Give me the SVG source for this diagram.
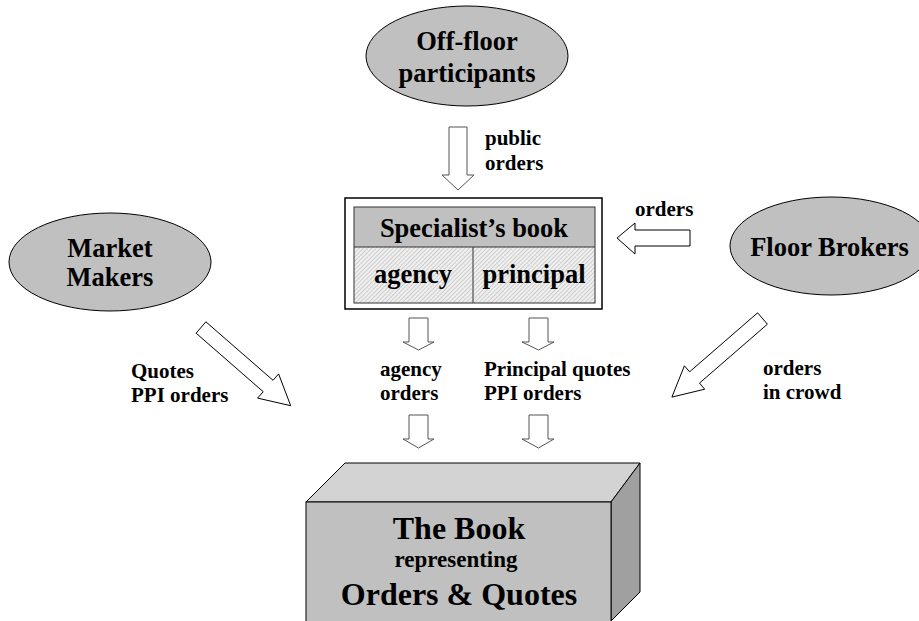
<svg xmlns="http://www.w3.org/2000/svg" width="919" height="621" viewBox="0 0 919 621">
<style>
text{font-weight:bold;fill:#000}
.ell{fill:#c0c0c0;stroke:#000;stroke-width:1}
.big{font-size:26.5px}
.lbl{font-size:21px}
.arr{fill:#fff;stroke:#000;stroke-width:1}
.sarr{fill:#fff;stroke:#555;stroke-width:1}
</style>
<defs>
<pattern id="hatch" width="3" height="3" patternUnits="userSpaceOnUse" patternTransform="rotate(-45)">
<rect width="3" height="3" fill="#f0f0f0"/>
<line x1="0" y1="0" x2="3" y2="0" stroke="#a8a8a8" stroke-width="1"/>
</pattern>
</defs>
<rect width="919" height="621" fill="#fff"/>
<g font-family="Liberation Serif, Times New Roman, DejaVu Serif, serif">
<g id="offfloor">
<ellipse class="ell" cx="467" cy="56" rx="101" ry="50"/>
<text class="big" x="467" y="50" text-anchor="middle">Off-floor</text>
<text class="big" x="467" y="82" text-anchor="middle">participants</text>
</g>

<g id="marketmakers">
<ellipse class="ell" cx="110" cy="262" rx="101" ry="49"/>
<text class="big" x="110" y="257" text-anchor="middle">Market</text>
<text class="big" x="110" y="286" text-anchor="middle">Makers</text>
</g>

<g id="floorbrokers">
<ellipse class="ell" cx="831" cy="246" rx="101" ry="49"/>
<text class="big" x="829.5" y="256" text-anchor="middle">Floor Brokers</text>
</g>

<g id="specialist">
<rect x="345" y="198" width="257" height="111" fill="#fff" stroke="#000" stroke-width="1.5"/>
<rect x="354" y="247" width="241" height="56" fill="url(#hatch)"/>
<rect x="354" y="207" width="241" height="40" fill="#c0c0c0"/>
<rect x="354" y="207" width="241" height="96" fill="none" stroke="#333" stroke-width="1"/>
<line x1="354" y1="247" x2="595" y2="247" stroke="#333" stroke-width="1"/>
<line x1="473" y1="247" x2="473" y2="303" stroke="#333" stroke-width="1"/>
<text class="big" x="474" y="237" text-anchor="middle">Specialist’s book</text>
<text class="big" x="413" y="283" text-anchor="middle">agency</text>
<text class="big" x="534" y="283" text-anchor="middle">principal</text>
</g>

<g id="thebook">
<polygon points="306,502 345,463 640,463 611,502" fill="#d3d3d3" stroke="#000" stroke-width="1"/>
<polygon points="611,502 640,463 640,592 611,621" fill="#a0a0a0" stroke="#000" stroke-width="1"/>
<rect x="306" y="502" width="305" height="122" fill="#c0c0c0" stroke="#000" stroke-width="1"/>
<text x="459" y="539" text-anchor="middle" font-size="32">The Book</text>
<text x="456" y="567" text-anchor="middle" font-size="23">representing</text>
<text x="459" y="605" text-anchor="middle" font-size="32">Orders &amp; Quotes</text>
</g>

<g id="connectors">
<polygon class="sarr" points="449,127 467,127 467,175 474,175 458,190 442,175 449,175"/>
<text class="lbl" x="485" y="145">public</text>
<text class="lbl" x="485" y="170">orders</text>

<polygon class="arr" points="690,230 690,246 635,246 635,254 617,238 635,223 635,230"/>
<text class="lbl" x="635" y="216">orders</text>

<polygon class="arr" points="196.1,333.2 205.9,321.8 273,380.3 278.6,373.9 290.7,405.7 257.6,398.1 263.2,391.7"/>
<text class="lbl" x="131" y="378">Quotes</text>
<text class="lbl" x="131" y="402">PPI orders</text>

<polygon class="arr" points="757.6,312.8 767.4,324.2 699.5,383.1 704.7,389.2 671.9,397.1 684.4,365.8 689.6,371.8"/>
<text class="lbl" x="763" y="375">orders</text>
<text class="lbl" x="763" y="399">in crowd</text>

<polygon class="sarr" points="409,318 428,318 428,342 434,342 418.5,350 403,342 409,342"/>
<polygon class="sarr" points="529,318 548,318 548,342 554,342 538.5,350 522,342 529,342"/>
<text class="lbl" x="380" y="376">agency</text>
<text class="lbl" x="380" y="400">orders</text>
<text class="lbl" x="484" y="376">Principal quotes</text>
<text class="lbl" x="484" y="400">PPI orders</text>
<polygon class="sarr" points="409,415 428,415 428,439 434,439 418.5,448 403,439 409,439"/>
<polygon class="sarr" points="529,415 548,415 548,439 554,439 538.5,448 522,439 529,439"/>
</g>
</g>
</svg>
